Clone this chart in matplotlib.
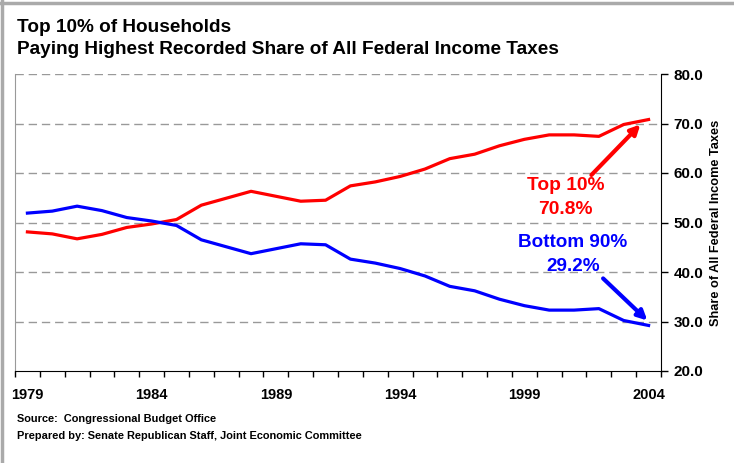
import matplotlib.pyplot as plt
from matplotlib.lines import Line2D
import numpy as np

plt.rcParams['font.family'] = ['Liberation Sans', 'DejaVu Sans']
plt.rcParams['font.weight'] = 'bold'

years = list(range(1979, 2005))
top10 = [48.1, 47.7, 46.7, 47.6, 49.0, 49.7, 50.6, 53.5, 54.9, 56.3, 55.3, 54.3, 54.5,
         57.4, 58.2, 59.3, 60.8, 62.9, 63.8, 65.5, 66.8, 67.7, 67.7, 67.4, 69.8, 70.8]
bottom90 = [51.9, 52.3, 53.3, 52.4, 51.0, 50.3, 49.4, 46.5, 45.1, 43.7, 44.7, 45.7, 45.5,
            42.6, 41.8, 40.7, 39.2, 37.1, 36.2, 34.5, 33.2, 32.3, 32.3, 32.6, 30.2, 29.2]
year_labels = ['1979', '1984', '1989', '1994', '1999', '2004']

W, H = 734, 463
fig = plt.figure(figsize=(W / 100, H / 100), dpi=100)
ax = fig.add_axes([15 / W, 1 - 371 / H, (661 - 15) / W, (371 - 74) / H])

x = np.arange(len(years))
ax.plot(x, top10, color='#ff0000', lw=2.3, solid_joinstyle='round', zorder=3)
ax.plot(x, bottom90, color='#0000ff', lw=2.3, solid_joinstyle='round', zorder=3)

ax.set_xlim(-0.5, len(years) - 0.5)
ax.set_ylim(20, 80)

# category-axis style: ticks sit between years, labels every fifth year
ax.set_xticks(np.arange(-0.5, len(years), 1.0))
ax.set_xticklabels([])
ax.tick_params(axis='x', length=4, width=1, direction='out', color='black')
for lab in year_labels:
    i = years.index(int(lab))
    ax.text(i, 15.2, lab, ha='center', va='center', fontsize=10.5, fontweight='bold')

ax.yaxis.tick_right()
ax.set_yticks(np.arange(20, 81, 10))
ax.set_yticklabels([f'{v:.1f}' for v in np.arange(20, 81, 10)], fontsize=11, fontweight='bold')
ax.tick_params(axis='y', length=5, width=1, direction='out', pad=4)

for v in range(30, 81, 10):
    ax.axhline(v, color='#999999', lw=1, ls=(0, (6, 3.5)), zorder=1)

ax.spines['top'].set_visible(False)
ax.spines['left'].set_color('#999999')
ax.spines['bottom'].set_color('black')
ax.spines['right'].set_color('black')

ax.yaxis.set_label_position('right')
ax.set_ylabel('Share of All Federal Income Taxes', fontsize=9.2, fontweight='bold', labelpad=5)

# call-out labels with arrows pointing at the 2004 values
ax.annotate('', xy=(24.67, 69.8), xytext=(22.7, 59.6),
            arrowprops=dict(arrowstyle='-|>', color='#ff0000', lw=3, mutation_scale=14,
                            shrinkA=0, shrinkB=0))
ax.text(21.67, 57.4, 'Top 10%', color='#ff0000', ha='center', va='center',
        fontsize=13.8, fontweight='bold')
ax.text(21.67, 52.7, f'{top10[-1]:.1f}%', color='#ff0000', ha='center', va='center',
        fontsize=13.8, fontweight='bold')

ax.annotate('', xy=(24.95, 30.2), xytext=(23.17, 38.7),
            arrowprops=dict(arrowstyle='-|>', color='#0000ff', lw=3, mutation_scale=14,
                            shrinkA=0, shrinkB=0))
ax.text(21.95, 45.9, 'Bottom 90%', color='#0000ff', ha='center', va='center',
        fontsize=13.6, fontweight='bold')
ax.text(21.95, 41.1, f'{bottom90[-1]:.1f}%', color='#0000ff', ha='center', va='center',
        fontsize=13.6, fontweight='bold')

fig.text(17 / W, 1 - 27 / H, 'Top 10% of Households', fontsize=13.7, fontweight='bold', va='center')
fig.text(17 / W, 1 - 50 / H, 'Paying Highest Recorded Share of All Federal Income Taxes',
         fontsize=13.7, fontweight='bold', va='center')
fig.text(17 / W, 1 - 419 / H, 'Source:  Congressional Budget Office', fontsize=7.9,
         fontweight='bold', va='center')
fig.text(17 / W, 1 - 436 / H, 'Prepared by: Senate Republican Staff, Joint Economic Committee',
         fontsize=7.9, fontweight='bold', va='center')

# gray frame along the top and left edges
fig.add_artist(Line2D([0, 1], [1 - 3 / H, 1 - 3 / H], transform=fig.transFigure,
                      color='#aaaaaa', lw=2.5))
fig.add_artist(Line2D([2 / W, 2 / W], [0, 1], transform=fig.transFigure,
                      color='#aaaaaa', lw=2.5))

fig.savefig('out.png', dpi=100)
